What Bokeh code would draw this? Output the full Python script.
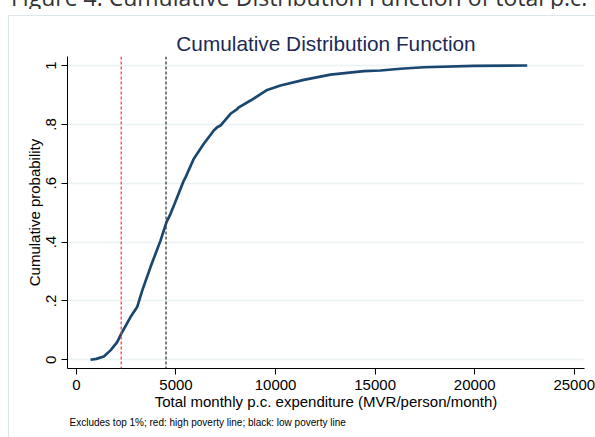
from bokeh.plotting import figure
from bokeh.models import Range1d, FixedTicker, Span, Title, Div
from bokeh.layouts import column
from bokeh.embed import file_html
from bokeh.resources import INLINE

cdf_x = [708, 1000, 1377, 1712, 2048, 2249, 2716, 3050, 3304, 3720, 4223, 4524,
         4726, 4976, 5393, 5478, 5895, 6397, 6899, 7069, 7235, 7737, 8072,
         8155, 8742, 9580, 10248, 11417, 12758, 14431, 15265, 16268, 17443,
         19955, 22636]
cdf_y = [0.0, 0.003, 0.011, 0.032, 0.060, 0.088, 0.145, 0.179, 0.235, 0.315, 0.405, 0.468,
         0.496, 0.538, 0.609, 0.620, 0.683, 0.734, 0.779, 0.790, 0.796, 0.836, 0.852,
         0.858, 0.881, 0.917, 0.932, 0.951, 0.969, 0.981, 0.983, 0.989, 0.994,
         0.999, 1.0]
high_poverty_line = 2250
low_poverty_line = 4500
x_ticks = [0, 5000, 10000, 15000, 20000, 25000]
y_ticks = [0, 0.2, 0.4, 0.6, 0.8, 1.0]
y_tick_labels = ["0", ".2", ".4", ".6", ".8", "1"]
caption = "Figure 4: Cumulative Distribution Function of total p.c. monthly expenditure"

FONT = "Liberation Sans"
W, H = 595, 437

p = figure(width=W, height=H, output_backend="svg", toolbar_location=None,
           x_range=Range1d(-447, 25512), y_range=Range1d(-0.0296, 1.0306),
           min_border_left=67, min_border_right=11, min_border_top=56, min_border_bottom=69)
p.outline_line_color = None
p.background_fill_color = "white"
p.border_fill_color = None

p.title.text = "Cumulative Distribution Function"
p.title.align = "center"
p.title.text_font = FONT
p.title.text_font_size = "20.8px"
p.title.text_font_style = "normal"
p.title.text_color = "#1C2A55"
p.title.standoff = 4

p.xgrid.visible = False
p.ygrid.ticker = FixedTicker(ticks=y_ticks)
p.ygrid.grid_line_color = "#EAF2F3"
p.ygrid.grid_line_width = 1.5

p.xaxis.ticker = FixedTicker(ticks=x_ticks)
p.yaxis.ticker = FixedTicker(ticks=y_ticks)
p.yaxis.major_label_overrides = {t: l for t, l in zip(y_ticks, y_tick_labels)}
p.yaxis.major_label_orientation = "vertical"
for ax in (p.xaxis, p.yaxis):
    ax.axis_line_color = "black"
    ax.major_tick_line_color = "black"
    ax.minor_tick_line_color = None
    ax.major_tick_out = 6
    ax.major_tick_in = 0
    ax.major_label_text_font = FONT
    ax.major_label_text_font_size = "15px"
    ax.major_label_text_color = "black"
    ax.axis_label_text_font = FONT
    ax.axis_label_text_font_size = "15px"
    ax.axis_label_text_font_style = "normal"
    ax.axis_label_text_color = "black"
p.xaxis.axis_label = "Total monthly p.c. expenditure (MVR/person/month)"
p.yaxis.axis_label = "Cumulative probability"
p.xaxis.major_label_standoff = 5
p.xaxis.axis_label_standoff = 0
p.yaxis.major_label_standoff = 5
p.yaxis.axis_label_standoff = 1

note = Title(text="Excludes top 1%; red: high poverty line; black: low poverty line",
             align="left", text_font=FONT, text_font_size="10px",
             text_font_style="normal", text_color="black", offset=2, standoff=4)
p.add_layout(note, "below")

p.add_layout(Span(location=high_poverty_line, dimension="height", line_color="#FF4040",
                  line_width=1.3, line_dash="3 2"))
p.add_layout(Span(location=low_poverty_line, dimension="height", line_color="#3A3A3A",
                  line_width=1.3, line_dash="3 2"))

p.line(cdf_x, cdf_y, line_color="#1A476F", line_width=2.7)

# document caption above the graph, cut off by the top edge as in the reference
cap = Div(text=caption, styles={
    "position": "absolute", "left": "6px", "top": "-19px", "z-index": "2",
    "width": "589px", "overflow": "hidden",
    "font-family": "Open Sans", "font-size": "23px", "line-height": "1",
    "color": "#333333", "white-space": "nowrap"})

root = column(p, cap)
# light outer frame of the graph region, seen through the transparent border area
root.styles = {
    "background-color": "white",
    "background-image": "linear-gradient(#DDE6EA, #DDE6EA), linear-gradient(#DDE6EA, #DDE6EA)",
    "background-size": "1px 100%, 100% 1px",
    "background-position": "8px 15px, 8px 15px",
    "background-repeat": "no-repeat",
}
open("out.html", "w").write(file_html(root, INLINE))
